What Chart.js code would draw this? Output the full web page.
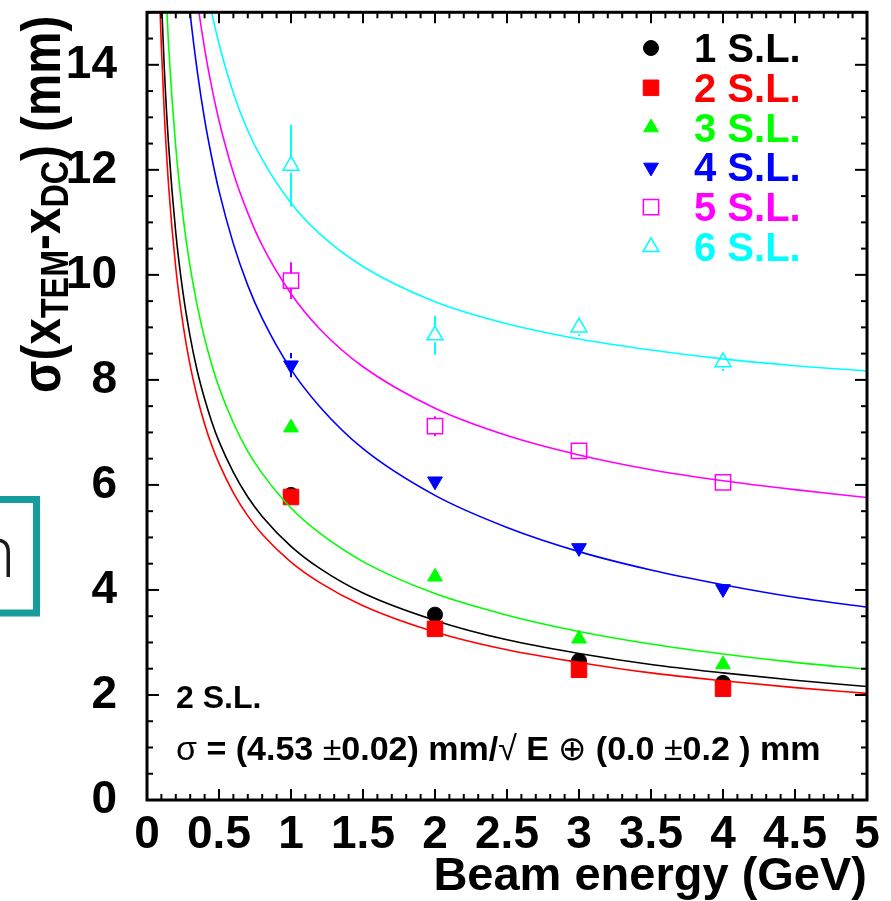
<!DOCTYPE html>
<html>
<head>
<meta charset="utf-8">
<style>
  html, body { margin: 0; padding: 0; background: #fff; }
  canvas { display: block; }
</style>
<script src="https://cdn.jsdelivr.net/npm/chart.js@4.4.0/dist/chart.umd.min.js"></script>
</head>
<body>
<canvas id="grafico-resolucion" width="891" height="901"></canvas>
<script>
// values
const beamEnergies = [1, 2, 3, 4];
const seriesLabels = ['1 S.L.', '2 S.L.', '3 S.L.', '4 S.L.', '5 S.L.', '6 S.L.'];

const sigma1 = [5.81, 3.53, 2.65, 2.23];
const sigma2 = [5.77, 3.26, 2.48, 2.12];
const sigma3 = [7.09, 4.25, 3.07, 2.58];
const sigma4 = [8.28, 6.07, 4.80, 4.02];
const sigma5 = [9.89, 7.12, 6.65, 6.05];
const sigma6 = [12.08, 8.85, 9.00, 8.34];

const err1 = [0.05, 0.05, 0.05, 0.05];
const err2 = [0.05, 0.05, 0.05, 0.05];
const err3 = [0.05, 0.05, 0.05, 0.05];
const err4 = [0.23, 0.10, 0.08, 0.08];
const err5 = [0.35, 0.19, 0.10, 0.10];
const err6 = [0.78, 0.37, 0.17, 0.17];

// fit curves, sampled along the picture
const fitEnergies = [0.09, 0.1, 0.12, 0.15, 0.2, 0.25, 0.3, 0.35, 0.4, 0.45, 0.5, 0.6, 0.7, 0.8, 1, 1.2, 1.5, 2, 2.5, 3, 3.5, 4, 4.5, 5];
const fit1 = [16.10, 15.27, 13.94, 12.47, 10.80, 9.66, 8.82, 8.16, 7.64, 7.20, 6.83, 6.24, 5.77, 5.40, 4.83, 4.41, 3.94, 3.42, 3.05, 2.79, 2.58, 2.42, 2.28, 2.16];
const fit2 = [15.10, 14.33, 13.08, 11.70, 10.13, 9.06, 8.27, 7.66, 7.16, 6.75, 6.41, 5.85, 5.41, 5.06, 4.53, 4.14, 3.70, 3.20, 2.86, 2.62, 2.42, 2.27, 2.14, 2.03];
const fit3 = [18.53, 17.58, 16.05, 14.36, 12.43, 11.12, 10.15, 9.40, 8.79, 8.29, 7.86, 7.18, 6.64, 6.22, 5.56, 5.08, 4.54, 3.93, 3.52, 3.21, 2.97, 2.78, 2.62, 2.49];
const fit4 = [27.3, 25.9, 23.7, 21.2, 18.3, 16.4, 14.97, 13.86, 12.96, 12.23, 11.60, 10.59, 9.80, 9.17, 8.20, 7.49, 6.69, 5.80, 5.19, 4.73, 4.38, 4.10, 3.86, 3.67];
const fit5 = [29.1, 27.6, 25.3, 22.7, 19.8, 17.8, 16.3, 15.21, 14.31, 13.57, 12.94, 11.94, 11.18, 10.56, 9.64, 8.97, 8.25, 7.46, 6.94, 6.57, 6.29, 6.08, 5.91, 5.76];
const fit6 = [30.3, 28.8, 26.5, 23.9, 21.0, 19.07, 17.65, 16.56, 15.70, 14.99, 14.40, 13.46, 12.75, 12.20, 11.37, 10.78, 10.16, 9.49, 9.07, 8.78, 8.57, 8.40, 8.27, 8.17];

const xTickValues = [0, 0.5, 1, 1.5, 2, 2.5, 3, 3.5, 4, 4.5, 5];
const yTickValues = [0, 2, 4, 6, 8, 10, 12, 14];

const sigmas = [sigma1, sigma2, sigma3, sigma4, sigma5, sigma6];
const errores = [err1, err2, err3, err4, err5, err6];
const ajustes = [fit1, fit2, fit3, fit4, fit5, fit6];

const seriesColors = ['#000000', '#ff0000', '#00ff00', '#0000ff', '#ff00ff', '#00ffff'];
const markerShapes = ['circle', 'rect', 'triangle', 'triangle', 'rect', 'triangle'];
const markerRadius = [7.5, 11, 8.5, 8.5, 10.8, 9.2];
const markerRotation = [0, 0, 0, 180, 0, 0];
const markerOpen = [false, false, false, false, true, true];

const FONT = '"Liberation Sans", Arial, sans-serif';

const datasets = [];
seriesLabels.forEach((label, i) => {
    datasets.push({
        label,
        data: beamEnergies.map((e, k) => ({ x: e, y: sigmas[i][k] })),
        errBars: errores[i],
        showLine: false,
        pointStyle: markerShapes[i],
        pointRadius: markerRadius[i],
        pointRotation: markerRotation[i],
        pointBackgroundColor: markerOpen[i] ? 'rgba(0,0,0,0)' : seriesColors[i],
        pointBorderColor: seriesColors[i],
        pointBorderWidth: markerOpen[i] ? 1.5 : 1,
        order: 100 - 2 * i
    });
    datasets.push({
        label: label + ' fit',
        data: fitEnergies.map((e, k) => ({ x: e, y: ajustes[i][k] })),
        showLine: true,
        borderColor: seriesColors[i],
        borderWidth: 1.6,
        pointRadius: 0,
        cubicInterpolationMode: 'monotone',
        order: 99 - 2 * i
    });
});

const line = (ctx, x1, y1, x2, y2) => {
    ctx.beginPath();
    ctx.moveTo(x1, y1);
    ctx.lineTo(x2, y2);
    ctx.stroke();
};

// text made of pieces with different fonts / offsets
const drawRuns = (ctx, runs, x, y) => {
    runs.forEach(r => {
        ctx.font = r.font;
        ctx.fillText(r.text, x, y + (r.dy || 0));
        x += ctx.measureText(r.text).width;
    });
};

const errorBarsPlugin = {
    id: 'errorBars',
    beforeDatasetsDraw(chart) {
        const { ctx } = chart;
        const xs = chart.scales.x, ys = chart.scales.y;
        ctx.save();
        ctx.lineWidth = 2;
        chart.data.datasets.forEach(ds => {
            if (!ds.errBars) return;
            ctx.strokeStyle = ds.pointBorderColor;
            ds.data.forEach((p, k) => {
                const px = xs.getPixelForValue(p.x);
                const yc = ys.getPixelForValue(p.y);
                const yHi = ys.getPixelForValue(p.y + ds.errBars[k]);
                const yLo = ys.getPixelForValue(p.y - ds.errBars[k]);
                const gap = 7;
                if (yc - yHi > gap) line(ctx, px, yHi, px, yc - gap);
                if (yLo - yc > gap) line(ctx, px, yc + gap, px, yLo);
            });
        });
        ctx.restore();
    }
};

const decorPlugin = {
    id: 'decor',
    afterDraw(chart) {
        const { ctx } = chart;
        const { left, right, top, bottom } = chart.chartArea;
        const xs = chart.scales.x, ys = chart.scales.y;
        ctx.save();

        // inward ticks on all four sides, ROOT style
        ctx.strokeStyle = '#000';
        ctx.lineWidth = 2;
        for (let k = 0; k <= 50; k++) {
            const px = xs.getPixelForValue(k / 10);
            const len = k % 5 === 0 ? 11 : 6;
            line(ctx, px, bottom, px, bottom - len);
            line(ctx, px, top, px, top + len);
        }
        for (let k = 0; k <= 30; k++) {
            const py = ys.getPixelForValue(k / 2);
            const len = k % 4 === 0 ? 12 : 6;
            line(ctx, left, py, left + len, py);
            line(ctx, right, py, right - len, py);
        }
        ctx.lineWidth = 3;
        ctx.strokeRect(left, top, right - left, bottom - top);

        // legend
        seriesLabels.forEach((label, i) => {
            const y = 48 + i * 39.8;
            ctx.fillStyle = markerOpen[i] ? 'rgba(0,0,0,0)' : seriesColors[i];
            ctx.strokeStyle = seriesColors[i];
            ctx.lineWidth = markerOpen[i] ? 1.5 : 1;
            Chart.helpers.drawPoint(ctx, {
                pointStyle: markerShapes[i], radius: markerRadius[i],
                rotation: markerRotation[i], borderWidth: ctx.lineWidth
            }, 651, y);
            ctx.fillStyle = seriesColors[i];
            ctx.font = 'bold 40px ' + FONT;
            ctx.textAlign = 'left';
            ctx.textBaseline = 'alphabetic';
            ctx.fillText(label, 694, y + 14);
        });

        // fit annotation
        const b34 = 'bold 34px ' + FONT, n34 = '34px ' + FONT;
        ctx.fillStyle = '#000';
        ctx.font = 'bold 32px ' + FONT;
        ctx.fillText('2 S.L.', 176, 708);
        drawRuns(ctx, [
            { text: 'σ', font: n34 }, { text: ' = (4.53 ', font: b34 }, { text: '±', font: n34 },
            { text: '0.02) mm/', font: b34 }, { text: '√', font: n34 }, { text: ' E ', font: b34 },
            { text: '⊕', font: n34 }, { text: ' (0.0 ', font: b34 }, { text: '±', font: n34 },
            { text: '0.2 ) mm', font: b34 }
        ], 176, 760);

        // y axis title with subscripts, a bit condensed along the text
        const m56 = 'bold 56px ' + FONT, s38 = 'bold 38px ' + FONT;
        ctx.save();
        ctx.translate(60, 393);
        ctx.rotate(-Math.PI / 2);
        ctx.scale(0.85, 1);
        drawRuns(ctx, [
            { text: 'σ(x', font: m56 }, { text: 'TEM', font: s38, dy: 8 },
            { text: '-x', font: m56 }, { text: 'DC', font: s38, dy: 8 },
            { text: ') (mm)', font: m56 }
        ], 0, 0);
        ctx.restore();

        // piece of the slide box cut at the left edge
        ctx.strokeStyle = '#169c9c';
        ctx.lineWidth = 7;
        ctx.strokeRect(-20, 499.5, 56.5, 113.5);
        ctx.fillStyle = '#1a1a1a';
        ctx.font = '300 72px "Open Sans", sans-serif';
        ctx.textAlign = 'right';
        ctx.fillText('n', 16, 577);

        ctx.restore();
    }
};

const ctx = document.getElementById('grafico-resolucion').getContext('2d');
const resolucionChart = new Chart(ctx, {
    type: 'scatter',
    data: { datasets },
    options: {
        responsive: false,
        animation: false,
        devicePixelRatio: 1,
        events: [],
        layout: { padding: { left: 0, top: 8, right: 24, bottom: 0 } },
        plugins: { legend: { display: false }, tooltip: { enabled: false } },
        scales: {
            x: {
                type: 'linear', position: 'bottom', min: 0, max: 5,
                grid: { display: false }, border: { display: false },
                afterBuildTicks: s => { s.ticks = xTickValues.map(v => ({ value: v })); },
                afterFit: s => { s.height = 101; s.paddingLeft = 0; s.paddingRight = 0; },
                ticks: {
                    autoSkip: false, maxRotation: 0, minRotation: 0, padding: 4, color: '#000',
                    font: { family: FONT, size: 46, weight: 'bold', lineHeight: 1 },
                    callback: v => String(v)
                },
                title: {
                    display: true, text: 'Beam energy (GeV)', align: 'end', color: '#000',
                    padding: { top: 0, bottom: 0 },
                    font: { family: FONT, size: 47, weight: 'bold', lineHeight: 1 }
                }
            },
            y: {
                type: 'linear', min: 0, max: 15,
                grid: { display: false }, border: { display: false },
                afterBuildTicks: s => { s.ticks = yTickValues.map(v => ({ value: v })); },
                afterFit: s => { s.width = 147; s.paddingTop = 0; s.paddingBottom = 0; },
                ticks: {
                    autoSkip: false, padding: 22, color: '#000',
                    font: { family: FONT, size: 46, weight: 'bold', lineHeight: 1 },
                    callback: v => String(v)
                }
            }
        }
    },
    plugins: [errorBarsPlugin, decorPlugin]
});
</script>
</body>
</html>
